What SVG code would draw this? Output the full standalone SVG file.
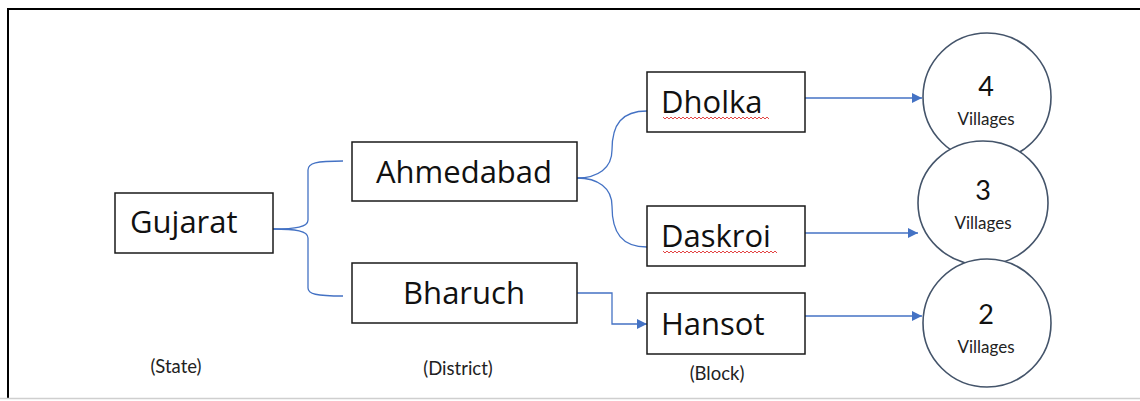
<svg xmlns="http://www.w3.org/2000/svg" width="1140" height="401" viewBox="0 0 1140 401">
<defs>
<style>
.box{fill:#fff;stroke:#1a1a1a;stroke-width:1.5}
.circ{fill:#fff;stroke:#44546A;stroke-width:1.6}
.lbl{font-family:"Open Sans",Lato,sans-serif;fill:#111;text-anchor:start}
.big{font-size:31px}
.ctr{text-anchor:middle}
.num{font-family:Lato,"Open Sans",sans-serif;font-size:27px;fill:#111;text-anchor:middle}
.vil{font-family:Lato,"Open Sans",sans-serif;font-size:17px;fill:#222;text-anchor:middle}
.conn{fill:none;stroke:#4472C4;stroke-width:1.3}
.cap{font-family:Lato,"Open Sans",sans-serif;font-size:18.5px;fill:#222;text-anchor:middle}
.wave{fill:none;stroke:#e03030;stroke-width:0.9}
</style>
<marker id="arr" viewBox="0 0 10 10" refX="10" refY="5" markerWidth="10" markerHeight="10" markerUnits="userSpaceOnUse" orient="auto">
<path d="M0,0 L10,5 L0,10 z" fill="#4472C4"/>
</marker>
</defs>
<rect x="0" y="0" width="1140" height="401" fill="#fff"/>
<path d="M8,399 L8,9 L1140,9" fill="none" stroke="#000" stroke-width="2"/>
<line x1="0" y1="398.5" x2="1140" y2="398.5" stroke="#cfcfcf" stroke-width="1.5"/>

<g id="connectors">
<path class="conn" d="M273,229 C296,229 308,227 308,220 L308,170 C308,163 316,161 343,161"/>
<path class="conn" d="M273,229 C296,229 308,231 308,238 L308,288 C308,294 316,296 343,296"/>
<path class="conn" d="M577,178 C598,178 612,168 612,150 C612,124 622,111 647,111"/>
<path class="conn" d="M577,178 C598,178 612,188 612,206 C612,233 622,247 647,247"/>
<path class="conn" d="M577,293 L612,293 L612,324 L647,324" marker-end="url(#arr)"/>
<line class="conn" x1="805" y1="98" x2="922" y2="98" marker-end="url(#arr)"/>
<line class="conn" x1="805" y1="233" x2="918" y2="233" marker-end="url(#arr)"/>
<line class="conn" x1="805" y1="316" x2="922" y2="316" marker-end="url(#arr)"/>
</g>

<g id="gujarat">
<rect class="box" x="115" y="193" width="158" height="60"/>
<text class="lbl big" x="130" y="233">Gujarat</text>
</g>
<g id="ahmedabad">
<rect class="box" x="352" y="142" width="225" height="59"/>
<text class="lbl big ctr" x="464" y="183">Ahmedabad</text>
</g>
<g id="bharuch">
<rect class="box" x="352" y="263" width="225" height="60"/>
<text class="lbl big ctr" x="464" y="304">Bharuch</text>
</g>
<g id="dholka">
<rect class="box" x="647" y="72" width="158" height="60"/>
<text class="lbl big" x="661" y="113">Dholka</text>
<path class="wave" d="M663,117 l2,2 l2,-2 l2,2 l2,-2 l2,2 l2,-2 l2,2 l2,-2 l2,2 l2,-2 l2,2 l2,-2 l2,2 l2,-2 l2,2 l2,-2 l2,2 l2,-2 l2,2 l2,-2 l2,2 l2,-2 l2,2 l2,-2 l2,2 l2,-2 l2,2 l2,-2 l2,2 l2,-2 l2,2 l2,-2 l2,2 l2,-2 l2,2 l2,-2 l2,2 l2,-2 l2,2 l2,-2 l2,2 l2,-2 l2,2 l2,-2 l2,2 l2,-2 l2,2 l2,-2 l2,2 l2,-2 l2,2 l2,-2 l2,2"/>
</g>
<g id="daskroi">
<rect class="box" x="647" y="206" width="158" height="60"/>
<text class="lbl big" x="661" y="247">Daskroi</text>
<path class="wave" d="M663,251 l2,2 l2,-2 l2,2 l2,-2 l2,2 l2,-2 l2,2 l2,-2 l2,2 l2,-2 l2,2 l2,-2 l2,2 l2,-2 l2,2 l2,-2 l2,2 l2,-2 l2,2 l2,-2 l2,2 l2,-2 l2,2 l2,-2 l2,2 l2,-2 l2,2 l2,-2 l2,2 l2,-2 l2,2 l2,-2 l2,2 l2,-2 l2,2 l2,-2 l2,2 l2,-2 l2,2 l2,-2 l2,2 l2,-2 l2,2 l2,-2 l2,2 l2,-2 l2,2 l2,-2 l2,2 l2,-2 l2,2 l2,-2 l2,2 l2,-2 l2,2 l2,-2 l2,2"/>
</g>
<g id="hansot">
<rect class="box" x="647" y="293" width="158" height="61"/>
<text class="lbl big" x="661" y="335">Hansot</text>
</g>

<g id="villages4">
<circle class="circ" cx="987" cy="97" r="64"/>
</g>
<g id="villages3">
<ellipse class="circ" cx="983" cy="203" rx="65" ry="62"/>
</g>
<g id="villages2">
<circle class="circ" cx="987" cy="323" r="64"/>
</g>
<g id="circle-labels">
<text class="num" x="986" y="96">4</text>
<text class="vil" x="986" y="125">Villages</text>
<text class="num" x="983" y="200">3</text>
<text class="vil" x="983" y="229">Villages</text>
<text class="num" x="986" y="324">2</text>
<text class="vil" x="986" y="353">Villages</text>
</g>

<g id="captions">
<text class="cap" x="176" y="373">(State)</text>
<text class="cap" x="458" y="375">(District)</text>
<text class="cap" x="717" y="380">(Block)</text>
</g>
</svg>
